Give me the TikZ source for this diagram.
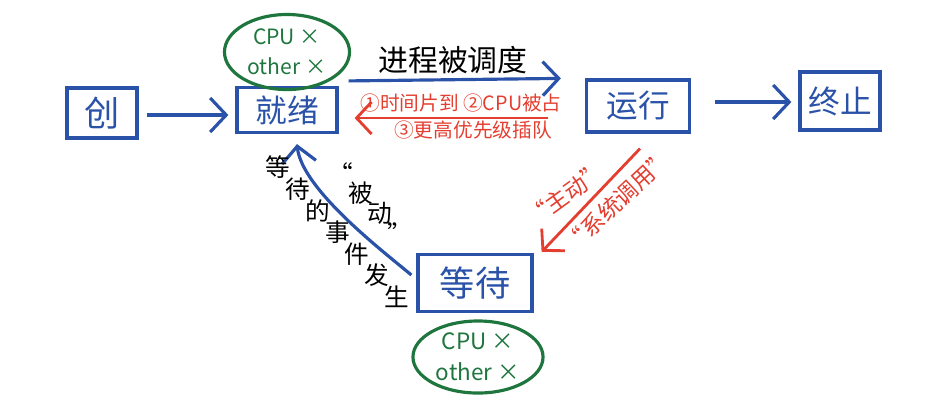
\documentclass[tikz,border=0pt]{standalone}
\usepackage{fontspec}
\newfontfamily\cjk{Noto Sans CJK SC}
\usetikzlibrary{arrows.meta,calc,shapes.geometric}

\definecolor{penblue}{RGB}{42,82,168}
\definecolor{penred}{RGB}{228,62,48}
\definecolor{pengreen}{RGB}{30,118,62}

\tikzset{
  statebox/.style={draw=penblue, line width=0.9pt, text=penblue, inner sep=0pt,
                   font=\cjk\fontsize{9}{11}\selectfont},
  infoell/.style={ellipse, draw=pengreen, line width=0.9pt, text=pengreen, inner sep=0pt,
                  align=center, font=\cjk\fontsize{6}{8.5}\selectfont},
  bluearr/.style={draw=penblue, line width=0.9pt, -{Straight Barb[length=1.6mm,width=3.4mm]}},
  redarr/.style={draw=penred, line width=0.8pt, -{Straight Barb[length=1.5mm,width=3.2mm]}},
  redlbl/.style={text=penred, inner sep=0pt, font=\cjk\fontsize{5.6}{7}\selectfont},
  penlbl/.style={inner sep=0pt, font=\cjk\fontsize{7}{8}\selectfont}
}

\begin{document}
\begin{tikzpicture}[x=0.01cm, y=-0.01cm]
  \useasboundingbox (0,0) rectangle (951,411);

  %--- states ---
  \node[statebox, minimum width=0.70cm, minimum height=0.50cm,
        font=\cjk\fontsize{10}{11}\selectfont]                 (crt)  at (102,113) {创};
  \node[statebox, minimum width=1.00cm, minimum height=0.45cm] (rdy)  at (287,110) {就绪};
  \node[statebox, minimum width=1.03cm, minimum height=0.52cm] (run)  at (638,106) {运行};
  \node[statebox, minimum width=0.80cm, minimum height=0.58cm] (term) at (840,101) {终止};
  \node[statebox, minimum width=1.14cm, minimum height=0.57cm,
        font=\cjk\fontsize{10}{11}\selectfont]                 (wait) at (475,283) {等待};

  %--- resource notes ---
  \node[infoell, minimum width=1.25cm, minimum height=0.75cm] (cpuTop) at (287,52)  {CPU ×\\other ×};
  \node[infoell, minimum width=1.30cm, minimum height=0.72cm,
        font=\cjk\fontsize{6.4}{8.8}\selectfont]               (cpuBot) at (478,357) {CPU ×\\other ×};

  %--- create -> ready, run -> terminate ---
  \draw[bluearr] ($(crt.east)+(8,2)$)   -- ($(rdy.west)+(-7,5)$);
  \draw[bluearr] ($(run.east)+(24,-4)$) -- ($(term.west)+(-7,1)$);

  %--- ready <-> run ---
  \draw[bluearr] ($(rdy.north east)+(10,-5)$) -- ($(run.north west)+(-24,0)$);
  \node[penlbl, font=\cjk\fontsize{8.5}{10}\selectfont] (schedLbl) at (453,60) {进程被调度};
  \draw[redarr] ($(run.west)+(-37,12)$) -- ($(rdy.east)+(16,8)$);
  \node[redlbl] (preemptA) at (461,103) {①时间片到\ ②CPU被占};
  \node[redlbl] (preemptB) at (473,130) {③更高优先级插队};

  %--- run -> wait ---
  \draw[redarr] ($(run.south)+(2,15)$) -- ($(wait.north east)+(8,-1)$);
  \node[redlbl, font=\cjk\fontsize{6.5}{7}\selectfont, rotate=36] (activeLbl)  at (566,194) {“主动”};
  \node[redlbl, font=\cjk\fontsize{6.5}{7}\selectfont, rotate=43] (syscallLbl) at (618,201) {“系统调用”};

  %--- wait -> ready ---
  \draw[bluearr] ($(wait.west)+(-5,-8)$)
      .. controls +(-30,-25) and +(5,45) .. ($(rdy.south)+(10,10)$);
  \foreach \ch [count=\i from 0] in {等,待,的,事,件,发,生} {
    \node[penlbl] (evt\i) at ({278+\i*19.8},{167+\i*21.7}) {\ch};
  }
  \foreach \ch [count=\i from 0] in {“,被,动,”} {
    \node[penlbl] (pas\i) at ({341+\i*19.5},{173+\i*20}) {\ch};
  }

\end{tikzpicture}
\end{document}
